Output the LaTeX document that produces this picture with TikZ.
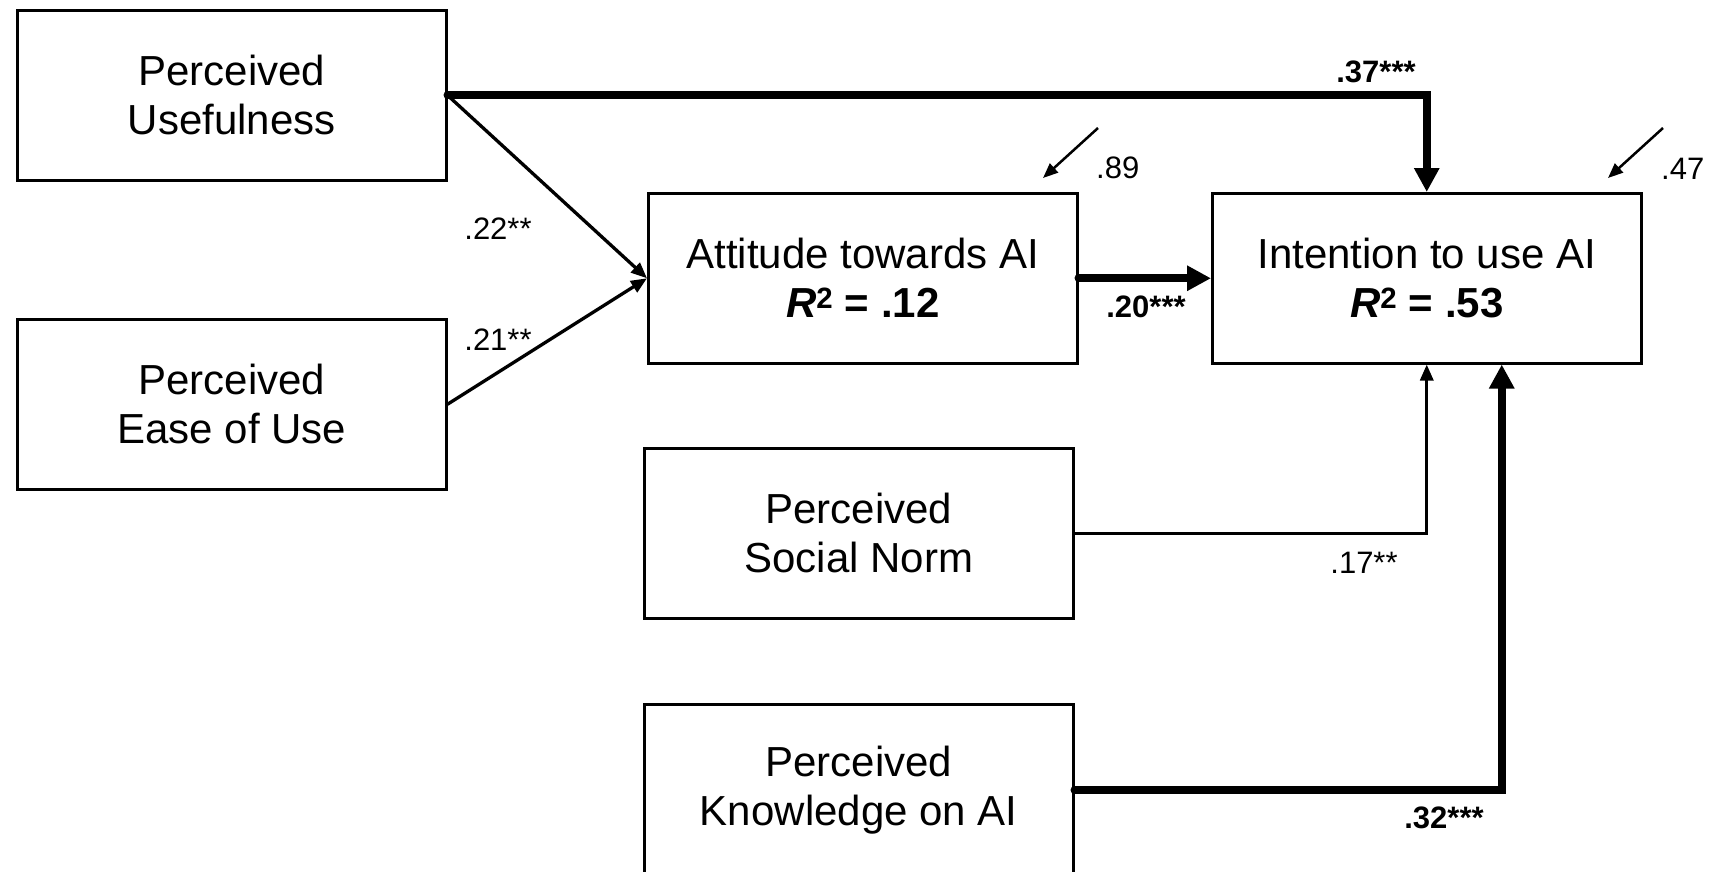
\documentclass[tikz,border=0pt]{standalone}
\usepackage{fontspec}
\setmainfont{Liberation Sans}
\usetikzlibrary{arrows.meta,calc}
\begin{document}
\begin{tikzpicture}[x=1pt,y=-1pt,
  box/.style={draw,line width=2.5pt,rectangle,minimum width=429pt,minimum height=170pt,inner sep=0pt,align=center,anchor=north west,font=\fontsize{42}{49}\selectfont},
  thin/.style={line width=3.3pt,line cap=round,-{Triangle[length=16pt,width=13pt]}},
  thick/.style={line width=8pt,line cap=round,-{Triangle[length=24pt,width=24pt]}},
  lab/.style={inner sep=0pt,anchor=base,font=\fontsize{31}{36}\selectfont},
  blab/.style={lab,font=\fontsize{31}{36}\selectfont\bfseries}]
\useasboundingbox (0,0) rectangle (1721,871);
\fill[white] (0,0) rectangle (1721,871);
\node[box] (pu) at (16,9) {Perceived\\Usefulness};
\node[box] (peou) at (16,318) {Perceived\\Ease of Use};
\node[box] (att) at (647,192) {Attitude towards AI\\\textbf{\textit{R}\textsuperscript{2} = .12}};
\node[box] (int) at (1211,192) {Intention to use AI\\\textbf{\textit{R}\textsuperscript{2} = .53}};
\node[box] (sn) at (643,447) {Perceived\\Social Norm};
\node[box,minimum height=172pt] (kn) at (643,703) {Perceived\\Knowledge on AI};
\coordinate (intK) at ($(int.south)+(75,0)$);
\draw[thick] (pu.east) -| (int.north);
\draw[thin] (pu.east) -- (att.west);
\draw[thin] (peou.east) -- (att.west);
\draw[thick] (att.east) -- (int.west);
\draw[thin] (sn.east) -| (int.south);
\draw[thick] (kn.east) -| (intK);
\coordinate (r1s) at (1098,128);
\coordinate (r1e) at (1043,178);
\coordinate (r2s) at (1663,128);
\coordinate (r2e) at (1608,178);
\draw[line width=2.5pt,-{Triangle[length=15pt,width=12pt]}] (r1s) -- (r1e);
\draw[line width=2.5pt,-{Triangle[length=15pt,width=12pt]}] (r2s) -- (r2e);
\node[lab,anchor=base west] (l89) at (1096,178) {.89};
\node[lab,anchor=base west] (l47) at (1661,179) {.47};
\node[lab] (l22) at (498,239) {.22**};
\node[lab] (l21) at (498,350) {.21**};
\node[blab] (l37) at (1376,82) {.37***};
\node[blab] (l20) at (1146,317) {.20***};
\node[lab] (l17) at (1364,573) {.17**};
\node[blab] (l32) at (1444,828) {.32***};
\end{tikzpicture}
\end{document}
